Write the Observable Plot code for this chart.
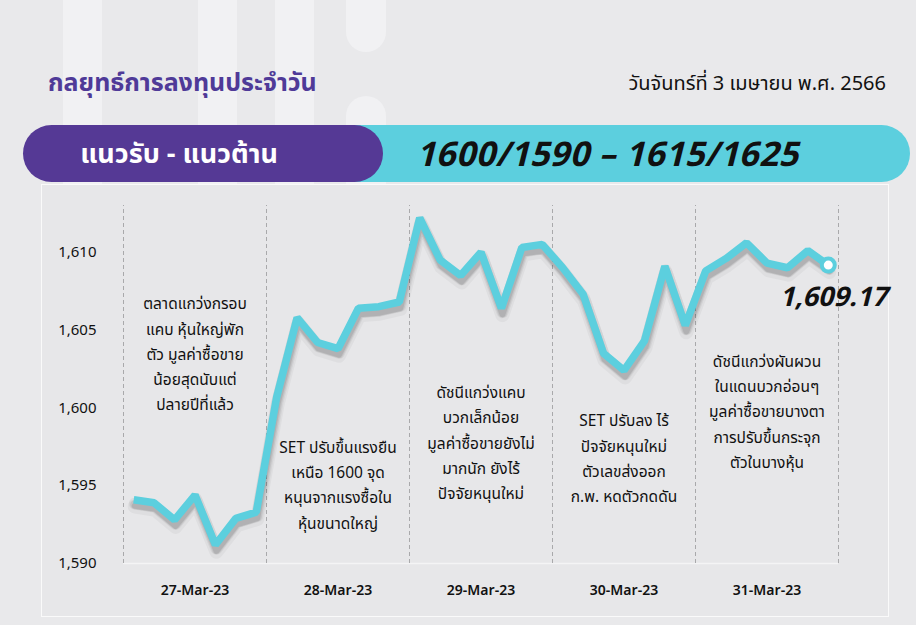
<!DOCTYPE html>
<html>
<head>
<meta charset="utf-8">
<script src="https://cdn.jsdelivr.net/npm/d3@7"></script>
<script src="https://cdn.jsdelivr.net/npm/@observablehq/plot@0.6"></script>
<style>
  html, body { margin: 0; padding: 0; }
  body { width: 916px; height: 625px; position: relative; overflow: hidden; background: #e9e9eb;
         font-family: "Noto Sans Thai", "Noto Sans", "Open Sans", sans-serif; }
  .deco { position: absolute; background: #f1f1f3; }
  #title { position: absolute; left: 48px; top: 64px; font-size: 25px; font-weight: 700; color: #4f3a98; }
  #date { position: absolute; right: 30px; top: 69px; font-size: 20px; color: #111; }
  #bannerC { position: absolute; left: 200px; top: 125px; width: 710px; height: 57px; background: #5ccfde; border-radius: 0 29px 29px 0; }
  #bannerP { position: absolute; left: 23px; top: 125px; width: 360px; height: 57px; background: #553995; border-radius: 29px; }
  #bannerP span { position: absolute; left: 0; width: 362px; text-align: center; top: 9px; color: #fff; font-size: 27px; font-weight: 700; margin-left: -25px; }
  #range { position: absolute; left: 416px; top: 130px; font-size: 34px; font-weight: 700; font-style: italic; color: #111; letter-spacing: 0.4px; }
  #panel { position: absolute; left: 41px; top: 184px; width: 846px; height: 431px; border: 1.5px solid #fafafa; background: #e7e7e9; }
  #chart { position: absolute; left: 0; top: 183px; }
</style>
</head>
<body>
<div class="deco" style="left:63px;top:0;width:39px;height:184px"></div>
<div class="deco" style="left:198px;top:0;width:39px;height:184px"></div>
<div class="deco" style="left:275px;top:0;width:39px;height:184px"></div>
<div class="deco" style="left:346px;top:0;width:40px;height:52px;border-radius:0 0 20px 20px"></div>
<div class="deco" style="left:346px;top:96px;width:40px;height:90px;border-radius:20px 20px 0 0"></div>
<div id="title">กลยุทธ์การลงทุนประจำวัน</div>
<div id="date">วันจันทร์ที่ 3 เมษายน พ.ศ. 2566</div>
<div id="bannerC"></div>
<div id="bannerP"><span>แนวรับ - แนวต้าน</span></div>
<div id="range">1600/1590 – 1615/1625</div>
<div id="panel"></div>
<div id="chart"></div>
<script>
// SET index, intraday readings (7 per trading day)
const days = ["27-Mar-23", "28-Mar-23", "29-Mar-23", "30-Mar-23", "31-Mar-23"];
const values = [
  1594.1, 1593.9, 1592.8, 1594.4, 1591.2, 1592.9, 1593.3,
  1600.7, 1605.8, 1604.2, 1603.8, 1606.4, 1606.5, 1606.8,
  1612.2, 1609.5, 1608.5, 1610.0, 1606.4, 1610.3, 1610.5,
  1609.0, 1607.3, 1603.5, 1602.4, 1604.3, 1609.1, 1605.3,
  1608.8, 1609.6, 1610.6, 1609.3, 1609.0, 1610.1, 1609.17
];
const yTicks = [1590, 1595, 1600, 1605, 1610];
const lastLabel = "1,609.17";
const notes = [
  "ตลาดแกว่งกรอบ\nแคบ หุ้นใหญ่พัก\nตัว มูลค่าซื้อขาย\nน้อยสุดนับแต่\nปลายปีที่แล้ว",
  "SET ปรับขึ้นแรงยืน\nเหนือ 1600 จุด\nหนุนจากแรงซื้อใน\nหุ้นขนาดใหญ่",
  "ดัชนีแกว่งแคบ\nบวกเล็กน้อย\nมูลค่าซื้อขายยังไม่\nมากนัก ยังไร้\nปัจจัยหนุนใหม่",
  "SET ปรับลง ไร้\nปัจจัยหนุนใหม่\nตัวเลขส่งออก\nก.พ. หดตัวกดดัน",
  "ดัชนีแกว่งผันผวน\nในแดนบวกอ่อนๆ\nมูลค่าซื้อขายบางตา\nการปรับขึ้นกระจุก\nตัวในบางหุ้น"
];
const noteLevels = [1603.6, 1595.2, 1597.9, 1596.9, 1599.9];

const perDay = 7;
const series = values.map((v, i) => ({i, v}));
const dayCenters = days.map((d, k) => k * perDay + (perDay - 1) / 2);
const separators = d3.range(days.length + 1).map(k => k * perDay - 0.5);
const noteData = notes.map((t, k) => ({x: dayCenters[k], y: noteLevels[k], t}));
const last = series[series.length - 1];

// soft drop shadow built from stacked translucent copies of the line
const shadowLayers = [
  {dy: 4, w: 12, o: 0.05}, {dy: 5, w: 9, o: 0.07}, {dy: 6, w: 6, o: 0.09}, {dy: 7, w: 14, o: 0.035}
];

const fontFam = '"Noto Sans Thai", "Noto Sans", sans-serif';
const chart = Plot.plot({
  width: 916,
  height: 442,
  marginLeft: 123,
  marginRight: 78,
  marginTop: 22,
  marginBottom: 62,
  style: {background: "transparent", fontFamily: fontFam, color: "#111", overflow: "visible"},
  x: {domain: [-0.5, values.length - 0.5]},
  y: {domain: [1590, 1613]},
  marks: [
    Plot.ruleY([1590], {stroke: "#f4f4f5", strokeWidth: 1.5}),
    Plot.ruleX(separators, {y1: 1590, y2: 1613, stroke: "#a9a9ab", strokeDasharray: "4,3", strokeWidth: 1}),
    Plot.axisY(yTicks, {tickSize: 0, tickPadding: 27, fontSize: 15, tickFormat: d3.format(","), label: null}),
    Plot.axisX(dayCenters, {tickSize: 0, tickPadding: 22, fontSize: 14, fontWeight: 600, tickFormat: (d, k) => days[k], label: null}),
    Plot.text(noteData, {x: "x", y: "y", text: "t", fontSize: 15.5, lineHeight: 1.63, fill: "#111", textAnchor: "middle"}),
    ...shadowLayers.map(s => Plot.line(series, {x: "i", y: "v", stroke: "#000000", strokeOpacity: s.o, strokeWidth: s.w, dx: 1, dy: s.dy, strokeLinejoin: "round"})),
    Plot.line(series, {x: "i", y: "v", stroke: "#5ccfde", strokeWidth: 7.5, strokeLinejoin: "miter", strokeLinecap: "butt"}),
    Plot.dot([last], {x: "i", y: "v", r: 6.5, fill: "#ffffff", stroke: "#5ccfde", strokeWidth: 4}),
    Plot.text([last], {x: "i", y: "v", text: () => lastLabel, dy: 32, dx: 5, fontSize: 27, fontWeight: 700, fontStyle: "italic", fill: "#111", textAnchor: "middle"})
  ]
});
document.getElementById("chart").appendChild(chart);
</script>
</body>
</html>
